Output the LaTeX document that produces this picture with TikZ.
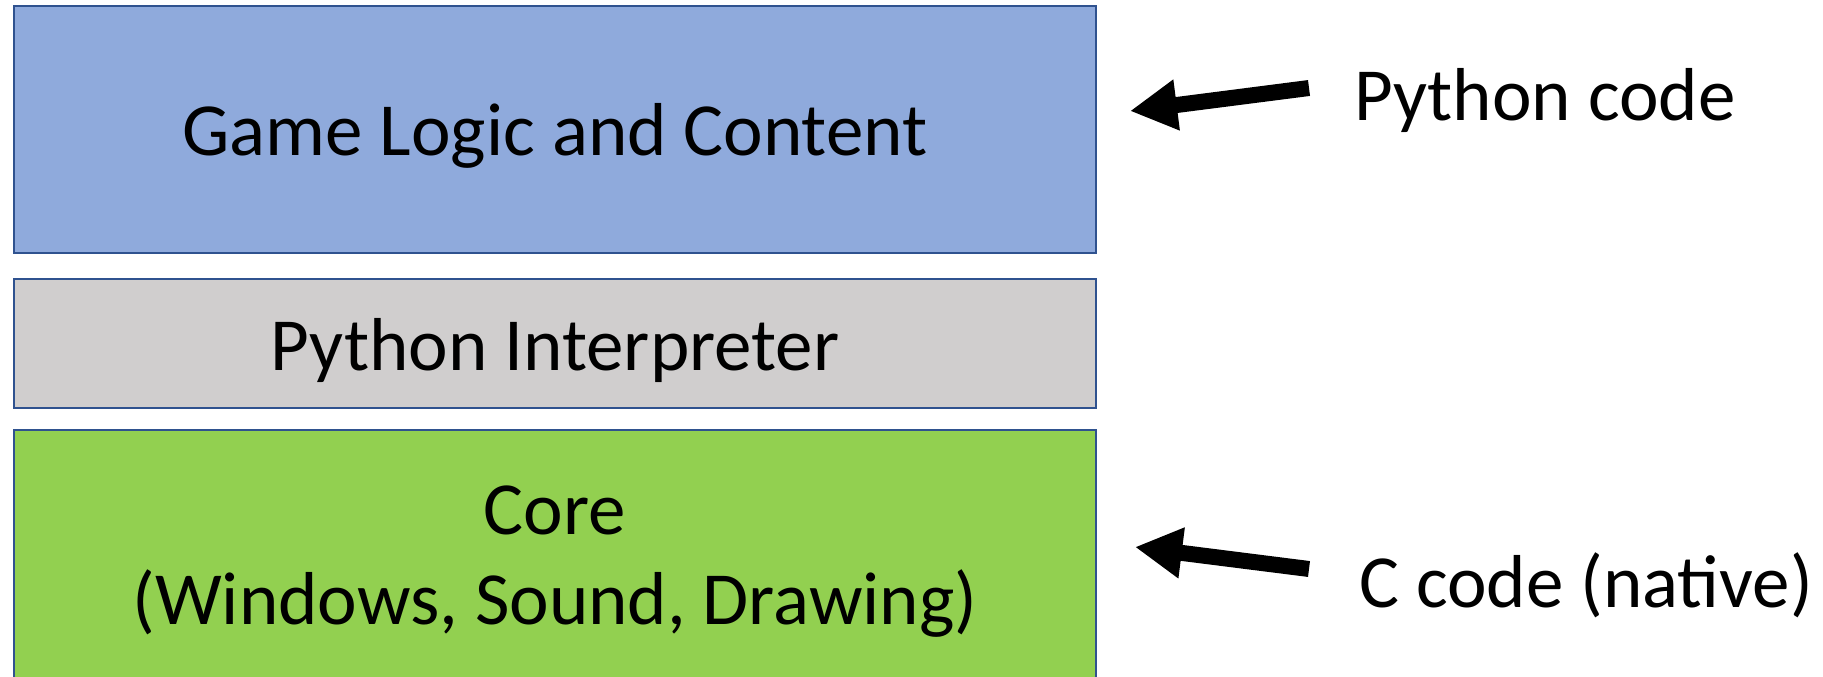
\documentclass[tikz,border=0pt]{standalone}
\usepackage{fontspec}
\setmainfont{Carlito}
\usetikzlibrary{arrows.meta}

\definecolor{layerline}{HTML}{2F528F}
\definecolor{logicfill}{HTML}{8FAADC}
\definecolor{interpfill}{HTML}{D0CECE}
\definecolor{corefill}{HTML}{92D050}

\begin{document}
\begin{tikzpicture}[x=1pt,y=1pt,
  layer/.style={draw=layerline, line width=2pt, rectangle, anchor=north west,
    minimum width=1082pt, inner sep=0pt, outer sep=0pt},
  bigtext/.style={font=\fontsize{75}{90}\selectfont, inner sep=0pt, anchor=base},
  fatarrow/.style={line width=16pt, -{Triangle[length=47pt,width=48pt]}}]
\useasboundingbox (0,0) rectangle (1823,-677);

% stacked layers
\node[layer, fill=logicfill, minimum height=247pt] (logic) at (14,-6) {};
\node[layer, fill=interpfill, minimum height=129pt] (interp) at (14,-279) {};
\node[layer, fill=corefill, minimum height=260pt] (core) at (14,-430) {};

% layer captions
\node[bigtext] (logictxt) at (555,-155) {Game Logic and Content};
\node[bigtext] (interptxt) at (555,-370) {Python Interpreter};
\node[bigtext, align=center] (coretxt) at (555,-624) {Core\\(Windows, Sound, Drawing)};

% side notes
\node[bigtext, anchor=base west] (pycode) at (1354,-120) {Python code};
\node[bigtext, anchor=base west] (ccode) at (1359,-607) {C code (native)};

% arrows pointing at the layers
\coordinate (pytail) at (1309,-88);
\coordinate (pytip) at (1130,-111);
\coordinate (ctail) at (1309,-569);
\coordinate (ctip) at (1135,-547);
\draw[fatarrow] (pytail) -- (pytip);
\draw[fatarrow] (ctail) -- (ctip);
\end{tikzpicture}
\end{document}
